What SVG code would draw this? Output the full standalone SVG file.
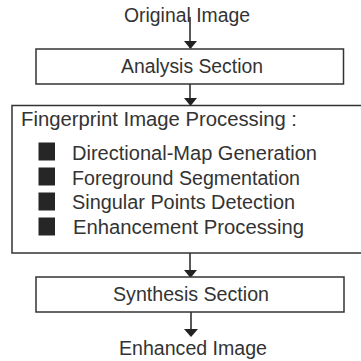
<svg xmlns="http://www.w3.org/2000/svg" width="361" height="361" viewBox="0 0 361 361">
<style>
.box{fill:#fff;stroke:#333;stroke-width:1.5}
.t{font-family:"Liberation Sans",Arial,sans-serif;font-size:19.5px;fill:#333}
.conn{stroke:#222;stroke-width:1.5;fill:none}
.head{fill:#222}
.bul{fill:#262626}
</style>
<rect width="361" height="361" fill="#fff"/>
<g id="connectors">
<line class="conn" x1="190" y1="17" x2="190" y2="48"/>
<polygon class="head" points="184,41 197,41 190.5,49"/>
<line class="conn" x1="190" y1="84" x2="190" y2="104"/>
<polygon class="head" points="184,98 197,98 190.5,106"/>
<line class="conn" x1="190" y1="253" x2="190" y2="276"/>
<polygon class="head" points="184,270 197,270 190.5,278"/>
<line class="conn" x1="191" y1="312" x2="191" y2="335"/>
<polygon class="head" points="184,329 198,329 191,337"/>
</g>
<g id="original-image">
<text class="t" x="124" y="22" textLength="126" lengthAdjust="spacingAndGlyphs">Original Image</text>
</g>
<g id="analysis-section">
<rect class="box" x="36" y="49" width="307.5" height="35"/>
<text class="t" x="121" y="73" textLength="142" lengthAdjust="spacingAndGlyphs">Analysis Section</text>
</g>
<g id="fingerprint-processing">
<rect class="box" x="12" y="105.5" width="360" height="147.5"/>
<text class="t" x="21" y="126" font-size="20" textLength="276" lengthAdjust="spacingAndGlyphs">Fingerprint Image Processing :</text>
<rect class="bul" x="38.5" y="142.5" width="16.5" height="18"/>
<rect class="bul" x="38.5" y="167.5" width="16.5" height="18"/>
<rect class="bul" x="38.5" y="192.5" width="16.5" height="18"/>
<rect class="bul" x="38.5" y="217.5" width="16.5" height="18"/>
<text class="t" x="72" y="160" textLength="245" lengthAdjust="spacingAndGlyphs">Directional-Map Generation</text>
<text class="t" x="72" y="184.5" textLength="228" lengthAdjust="spacingAndGlyphs">Foreground Segmentation</text>
<text class="t" x="72" y="209" textLength="223" lengthAdjust="spacingAndGlyphs">Singular Points Detection</text>
<text class="t" x="73" y="233.5" textLength="231" lengthAdjust="spacingAndGlyphs">Enhancement Processing</text>
</g>
<g id="synthesis-section">
<rect class="box" x="36" y="277" width="308" height="35"/>
<text class="t" x="113" y="301" textLength="156" lengthAdjust="spacingAndGlyphs">Synthesis Section</text>
</g>
<g id="enhanced-image">
<text class="t" x="119" y="355" textLength="148" lengthAdjust="spacingAndGlyphs">Enhanced Image</text>
</g>
</svg>
